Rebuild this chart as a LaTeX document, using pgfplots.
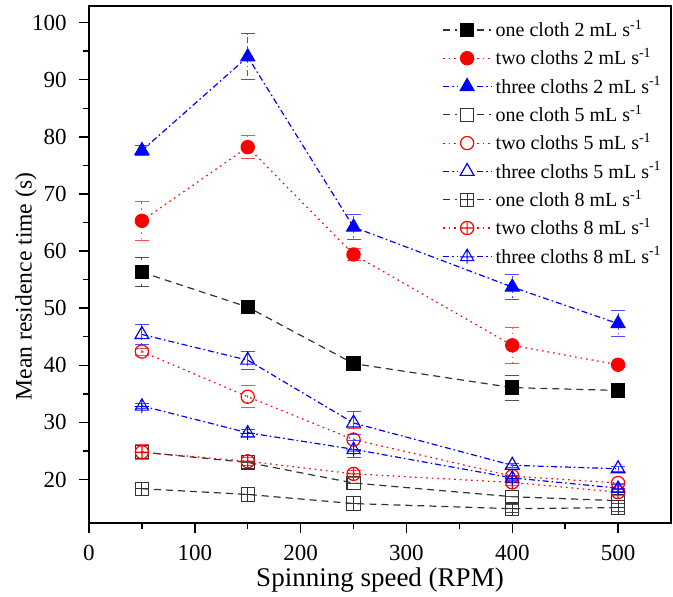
\documentclass[border=0pt]{standalone}
\usepackage{pgfplots}
\pgfplotsset{compat=1.18}
\usepackage{pgfplotstable}
\usepackage{fontspec}
\setmainfont{Liberation Serif}

\pgfdeclareplotmark{sqplus}{%
  \pgfpathrectangle{\pgfpoint{-\pgfplotmarksize}{-\pgfplotmarksize}}{\pgfpoint{2\pgfplotmarksize}{2\pgfplotmarksize}}%
  \pgfpathmoveto{\pgfpoint{-\pgfplotmarksize}{0pt}}\pgfpathlineto{\pgfpoint{\pgfplotmarksize}{0pt}}%
  \pgfpathmoveto{\pgfpoint{0pt}{-\pgfplotmarksize}}\pgfpathlineto{\pgfpoint{0pt}{\pgfplotmarksize}}%
  \pgfusepathqstroke}
\pgfdeclareplotmark{triplus}{%
  \pgfpathmoveto{\pgfpoint{0pt}{1.1\pgfplotmarksize}}%
  \pgfpathlineto{\pgfpoint{-1\pgfplotmarksize}{-0.65\pgfplotmarksize}}%
  \pgfpathlineto{\pgfpoint{1\pgfplotmarksize}{-0.65\pgfplotmarksize}}\pgfpathclose
  \pgfpathmoveto{\pgfpoint{0pt}{1.1\pgfplotmarksize}}\pgfpathlineto{\pgfpoint{0pt}{-1.1\pgfplotmarksize}}%
  \pgfpathmoveto{\pgfpoint{-1.1\pgfplotmarksize}{-0.1\pgfplotmarksize}}\pgfpathlineto{\pgfpoint{1.1\pgfplotmarksize}{-0.1\pgfplotmarksize}}%
  \pgfusepathqstroke}

% x y err
\pgfplotstableread{
x y e
50 56.3 2.5
150 50.2 0
250 40.3 0
400 36.1 2.2
500 35.6 0
}\oneTwo
\pgfplotstableread{
x y e
50 65.3 3.4
150 78.2 2.0
250 59.4 1.1
400 43.5 3.2
500 40.1 0
}\twoTwo
\pgfplotstableread{
x y e
50 77.6 0.8
150 94.0 4.0
250 64.2 2.2
400 53.7 2.2
500 47.3 2.3
}\threeTwo
\pgfplotstableread{
x y e
50 24.8 0
150 23.0 0
250 19.4 0
400 17.0 0
500 16.3 0
}\oneFive
\pgfplotstableread{
x y e
50 42.4 0.6
150 34.5 1.9
250 27.0 2.0
400 20.6 0
500 19.4 0
}\twoFive
\pgfplotstableread{
x y e
50 45.4 1.7
150 40.9 1.6
250 29.9 2.0
400 22.5 0.4
500 21.9 0.4
}\threeFive
\pgfplotstableread{
x y e
50 18.4 0
150 17.4 0
250 15.8 0
400 14.9 0.7
500 15.1 0.7
}\oneEight
\pgfplotstableread{
x y e
50 24.8 1.3
150 23.2 0.7
250 21.0 0.6
400 19.5 0.5
500 17.8 0.5
}\twoEight
\pgfplotstableread{
x y e
50 32.9 0.5
150 28.2 0.6
250 25.3 1.5
400 20.3 0.5
500 18.5 0.6
}\threeEight

\begin{document}
\begin{tikzpicture}
\begin{axis}[
  name=ax,
  scale only axis,
  width=291pt, height=258.5pt,
  xmin=0, xmax=550, ymin=12.4, ymax=102.9,
  xtick={0,100,...,500}, ytick={20,30,...,100},
  minor x tick num=1, minor y tick num=1,
  tick align=outside, xtick pos=left, ytick pos=left,
  major tick length=5pt, minor tick length=3pt,
  axis line style={line width=0.8pt},
  every tick/.style={black, line width=0.7pt},
  /pgf/number format/assume math mode=true,
  ticklabel style={font=\fontsize{11.5}{13}\selectfont},
  xticklabel style={yshift=-2.7pt},
  yticklabel style={xshift=-2.6pt},
  xlabel={\fontsize{13.5}{16}\selectfont Spinning speed (RPM)},
  ylabel={\fontsize{11.8}{14}\selectfont Mean residence time (s)},
  xlabel style={at={(axis description cs:0.5,0)}, anchor=center, yshift=-28.5pt},
  ylabel style={at={(axis description cs:0,0.5)}, anchor=center, yshift=31.5pt, xshift=-11pt},
  legend style={at={(0.995,0.985)}, anchor=north east, draw=none, fill=none,
    font=\fontsize{10}{12}\selectfont, row sep=0.4pt, inner sep=1pt},
  legend cell align=left,
  legend image code/.code={%
    \draw[#1, mark=none] (0pt,0pt) -- (7pt,0pt);
    \draw[#1, mark=none] (17pt,0pt) -- (24pt,0pt);
    \draw[#1, only marks] plot coordinates {(12pt,0pt)};},
  every axis plot/.append style={line width=0.6pt, mark size=3.3pt},
  error bars/y dir=both, error bars/y explicit,
  error bars/error mark options={rotate=90, mark size=3.5pt, line width=0.5pt},
  error bars/error bar style={line width=0.5pt},
]
\addplot[black!80, dash pattern=on 3.5pt off 2.5pt, mark=square*, mark options={solid, fill=black, draw=black},
  error bars/error bar style={black!70}] table[x=x,y=y,y error=e]{\oneTwo};
\addlegendentry{one cloth 2 mL s\textsuperscript{-1}}
\addplot[red, dash pattern=on 0.8pt off 2pt, mark=*, mark options={solid, fill=red},
  error bars/error bar style={red!70}] table[x=x,y=y,y error=e]{\twoTwo};
\addlegendentry{two cloths 2 mL s\textsuperscript{-1}}
\addplot[blue, dash pattern=on 3pt off 1.5pt on 0.8pt off 1.5pt, mark=triangle*, mark options={solid, fill=blue, scale=1.2},
  error bars/error bar style={blue!70}] table[x=x,y=y,y error=e]{\threeTwo};
\addlegendentry{three cloths 2 mL s\textsuperscript{-1}}
\addplot[black!80, dash pattern=on 3.5pt off 2.5pt, mark=square, mark options={solid, draw=black!80},
  error bars/error bar style={black!70}] table[x=x,y=y,y error=e]{\oneFive};
\addlegendentry{one cloth 5 mL s\textsuperscript{-1}}
\addplot[red, dash pattern=on 0.8pt off 2pt, mark=o, mark options={solid},
  error bars/error bar style={red!70}] table[x=x,y=y,y error=e]{\twoFive};
\addlegendentry{two cloths 5 mL s\textsuperscript{-1}}
\addplot[blue, dash pattern=on 3pt off 1.5pt on 0.8pt off 1.5pt, mark=triangle, mark options={solid, scale=1.2},
  error bars/error bar style={blue!70}] table[x=x,y=y,y error=e]{\threeFive};
\addlegendentry{three cloths 5 mL s\textsuperscript{-1}}
\addplot[black!80, dash pattern=on 3.5pt off 2.5pt, mark=sqplus, mark options={solid, draw=black!80, line width=0.5pt},
  error bars/error bar style={black!70}] table[x=x,y=y,y error=e]{\oneEight};
\addlegendentry{one cloth 8 mL s\textsuperscript{-1}}
\addplot[red, dash pattern=on 0.8pt off 2pt, mark=oplus, mark options={solid},
  error bars/error bar style={red!70}] table[x=x,y=y,y error=e]{\twoEight};
\addlegendentry{two cloths 8 mL s\textsuperscript{-1}}
\addplot[blue, dash pattern=on 3pt off 1.5pt on 0.8pt off 1.5pt, mark=triplus, mark options={solid, line width=0.5pt},
  error bars/error bar style={blue!70}] table[x=x,y=y,y error=e]{\threeEight};
\addlegendentry{three cloths 8 mL s\textsuperscript{-1}}
\end{axis}
\pgfresetboundingbox
\path ([xshift=-44.5pt,yshift=-37pt]ax.south west) rectangle ([xshift=1pt,yshift=3pt]ax.north east);
\end{tikzpicture}
\end{document}
